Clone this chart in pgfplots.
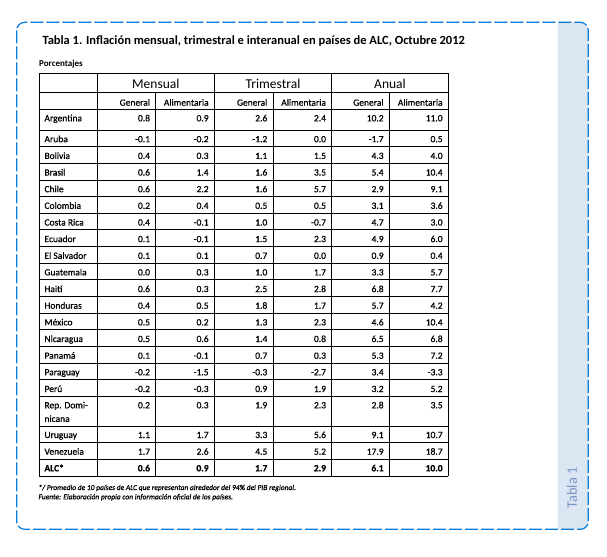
\documentclass[border=0pt]{standalone}
\usepackage{fontspec}
\setmainfont{Carlito}
\newfontfamily\pesada[FakeBold=0.7]{Carlito}
\usepackage{pgfplots}
\pgfplotsset{compat=1.18}
\usepackage{pgfplotstable}
\definecolor{borde}{HTML}{0A7BD6}
\definecolor{pestana}{HTML}{DCE6F2}
\definecolor{pestanatxt}{HTML}{7A96C8}

\newcommand\fdat{\pesada\fontsize{9.5bp}{11bp}\selectfont}
\newcommand\fgrupo{\fontsize{13.5bp}{15bp}\selectfont}
\newcommand\ftit{\fontsize{12.5bp}{14bp}\selectfont\bfseries}
\newcommand\fnota{\pesada\fontsize{7.5bp}{9bp}\selectfont\itshape}

% y = linea base de cada fila (px desde arriba)
\pgfplotstableread{
y pais mg ma tg ta ag aa
121.3 Argentina 0.8 0.9 2.6 2.4 10.2 11.0
142.2 Aruba -0.1 -0.2 -1.2 0.0 -1.7 0.5
158.9 Bolivia 0.4 0.3 1.1 1.5 4.3 4.0
175.5 Brasil 0.6 1.4 1.6 3.5 5.4 10.4
192.2 Chile 0.6 2.2 1.6 5.7 2.9 9.1
208.8 Colombia 0.2 0.4 0.5 0.5 3.1 3.6
225.5 {Costa Rica} 0.4 -0.1 1.0 -0.7 4.7 3.0
242.1 Ecuador 0.1 -0.1 1.5 2.3 4.9 6.0
258.8 {El Salvador} 0.1 0.1 0.7 0.0 0.9 0.4
275.4 Guatemala 0.0 0.3 1.0 1.7 3.3 5.7
292.1 Haití 0.6 0.3 2.5 2.8 6.8 7.7
308.7 Honduras 0.4 0.5 1.8 1.7 5.7 4.2
325.4 México 0.5 0.2 1.3 2.3 4.6 10.4
342.0 Nicaragua 0.5 0.6 1.4 0.8 6.5 6.8
358.7 Panamá 0.1 -0.1 0.7 0.3 5.3 7.2
375.3 Paraguay -0.2 -1.5 -0.3 -2.7 3.4 -3.3
392.0 Perú -0.2 -0.3 0.9 1.9 3.2 5.2
408.3 {Rep. Domi-} 0.2 0.3 1.9 2.3 2.8 3.5
438.0 Uruguay 1.1 1.7 3.3 5.6 9.1 10.7
454.7 Venezuela 1.7 2.6 4.5 5.2 17.9 18.7
}\datos

\pgfplotstableread{
y pais mg ma tg ta ag aa
471.3 ALC* 0.6 0.9 1.7 2.9 6.1 10.0
}\alc

\pgfplotsset{
  celda/.style={only marks, mark=none, point meta=explicit symbolic,
    nodes near coords,
    every node near coord/.append style={anchor=#1, inner sep=0pt, font=\fdat, text=black}},
}

\begin{document}
\begin{tikzpicture}
\begin{axis}[
  width=607bp, height=557bp, scale only axis,
  xmin=0, xmax=607, ymin=0, ymax=557, y dir=reverse,
  enlargelimits=false, hide axis, clip=false,
]
\path (axis cs:0,0) rectangle (axis cs:607,557);

% marco y pestana
\fill[pestana, rounded corners=8bp] (axis cs:557.7,22.3) rectangle (axis cs:588.3,529.3);
\fill[pestana] (axis cs:557.7,22.3) rectangle (axis cs:572,529.3);
\draw[borde, line width=1.2bp, dash pattern=on 13bp off 3bp, rounded corners=8bp]
  (axis cs:16.7,22.3) rectangle (axis cs:588.3,529.3);
\node[rotate=90, text=pestanatxt, font=\fontsize{14.5bp}{16bp}\selectfont] at (axis cs:572,488) {Tabla 1};

% titulos
\node[anchor=base west, inner sep=0pt, font=\ftit] at (axis cs:42.3,45) {Tabla 1. Inflación mensual, trimestral e interanual en países de ALC, Octubre 2012};
\node[anchor=base west, inner sep=0pt, font=\fontsize{9bp}{10bp}\selectfont\bfseries] at (axis cs:39,66.5) {Porcentajes};

% rejilla de la tabla
\pgfplotsinvokeforeach{73.3,92.3,109.7,130,146.65,163.3,179.95,196.6,213.25,229.9,246.55,263.2,279.85,296.5,313.15,329.8,346.45,363.1,379.75,396.4,426,442.7,459.3,476}{
  \draw[line width=0.9bp] (axis cs:39,#1) -- (axis cs:448.3,#1);
}
\pgfplotsinvokeforeach{39,97.3,214.3,331.7,448.3}{
  \draw[line width=0.9bp] (axis cs:#1,73.3) -- (axis cs:#1,476);
}
\pgfplotsinvokeforeach{155.7,273,389.3}{
  \draw[line width=0.9bp] (axis cs:#1,92.3) -- (axis cs:#1,476);
}

% encabezados
\addplot[celda=base, every node near coord/.append style={font=\fgrupo}] coordinates {
  (155.8,88.3) [Mensual] (273,88.3) [Trimestral] (390,88.3) [Anual]};
\addplot[celda=base east] coordinates {
  (150.2,105.7) [General] (208.8,105.7) [Alimentaria]
  (267.5,105.7) [General] (326.2,105.7) [Alimentaria]
  (383.8,105.7) [General] (442.8,105.7) [Alimentaria]};

% paises y valores
\addplot[celda=base west] table[x expr=44.3, y=y, meta=pais] {\datos};
\addplot[celda=base west] coordinates {(44.3,421.9) [nicana]};
\addplot[celda=base east] table[x expr=150.2, y=y, meta=mg] {\datos};
\addplot[celda=base east] table[x expr=208.8, y=y, meta=ma] {\datos};
\addplot[celda=base east] table[x expr=267.5, y=y, meta=tg] {\datos};
\addplot[celda=base east] table[x expr=326.2, y=y, meta=ta] {\datos};
\addplot[celda=base east] table[x expr=383.8, y=y, meta=ag] {\datos};
\addplot[celda=base east] table[x expr=442.8, y=y, meta=aa] {\datos};

% fila ALC en negrita
\addplot[celda=base west, every node near coord/.append style={font=\fdat\bfseries}] table[x expr=44.3, y=y, meta=pais] {\alc};
\addplot[celda=base east, every node near coord/.append style={font=\fdat\bfseries}] table[x expr=150.2, y=y, meta=mg] {\alc};
\addplot[celda=base east, every node near coord/.append style={font=\fdat\bfseries}] table[x expr=208.8, y=y, meta=ma] {\alc};
\addplot[celda=base east, every node near coord/.append style={font=\fdat\bfseries}] table[x expr=267.5, y=y, meta=tg] {\alc};
\addplot[celda=base east, every node near coord/.append style={font=\fdat\bfseries}] table[x expr=326.2, y=y, meta=ta] {\alc};
\addplot[celda=base east, every node near coord/.append style={font=\fdat\bfseries}] table[x expr=383.8, y=y, meta=ag] {\alc};
\addplot[celda=base east, every node near coord/.append style={font=\fdat\bfseries}] table[x expr=442.8, y=y, meta=aa] {\alc};

% notas
\node[anchor=base west, inner sep=0pt, font=\fnota] at (axis cs:38.3,490) {*/ Promedio de 10 países de ALC que representan alrededor del 94\% del PIB regional.};
\node[anchor=base west, inner sep=0pt, font=\fnota] at (axis cs:38.3,499.3) {Fuente: Elaboración propia con información oficial de los países.};
\end{axis}
\end{tikzpicture}
\end{document}
